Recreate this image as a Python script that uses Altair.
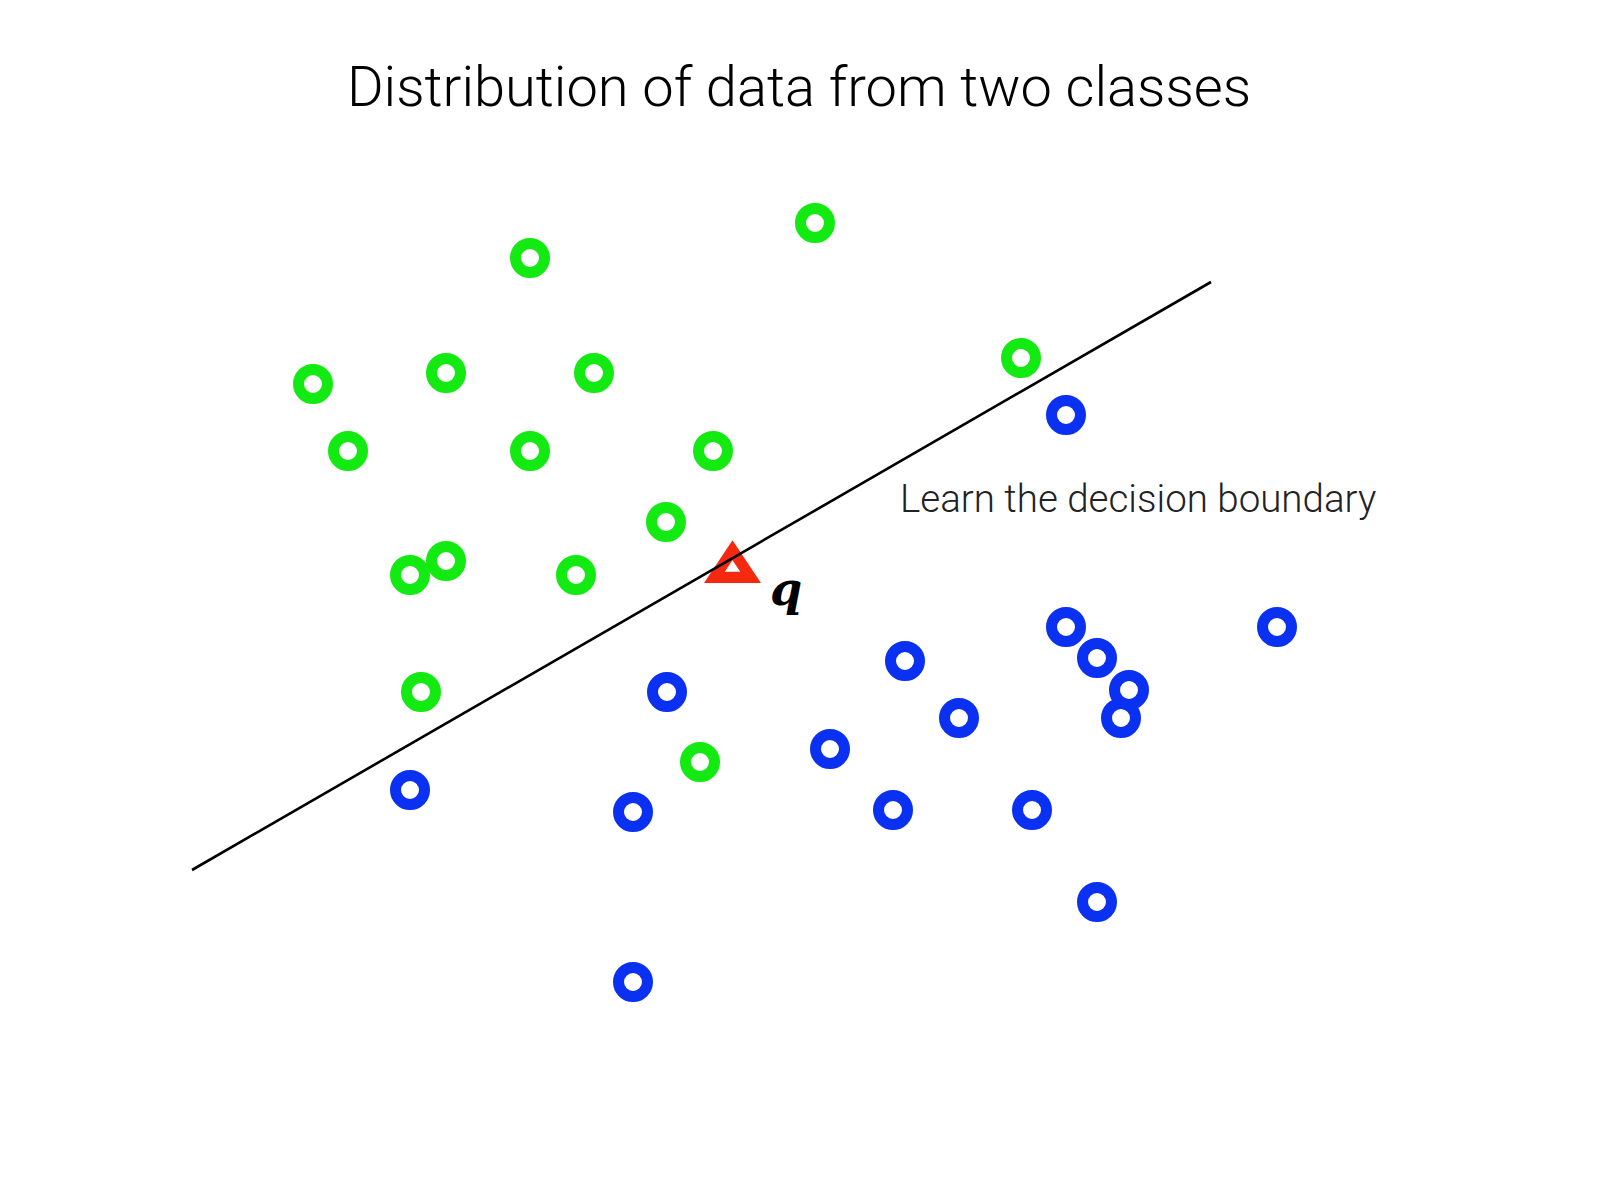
import altair as alt
import pandas as pd

# ---- data (image pixel coordinates, slide-like chart without axes) ----
green_x = [530, 815, 313, 446, 594, 1021, 348, 530, 713, 666, 446, 410, 576, 421, 700]
green_y = [258, 223, 384, 373, 373, 358, 451, 451, 451, 522, 561, 575, 575, 692, 762]

blue_x = [1066, 1066, 1277, 905, 1121, 1097, 1129, 667, 959, 830, 410, 633, 893, 1032, 1097, 633]
blue_y = [415, 627, 627, 661, 718, 658, 690, 692, 718, 749, 790, 812, 810, 810, 902, 982]

boundary_x = [192, 1211]
boundary_y = [870, 282]

query_x = [732.5]
query_y = [567.7]

title_text = ["Distribution of data from two classes"]
title_x = [799]
title_y = [106]

note_text = ["Learn the decision boundary"]
note_x = [900]
note_y = [512]

q_text = ["q"]
q_x = [770]
q_y = [605]

GREEN = "#12ea12"
BLUE = "#0a30f2"
RED = "#f5290f"

W, H = 1584, 1176

df_green = pd.DataFrame({"x": green_x, "y": green_y})
df_blue = pd.DataFrame({"x": blue_x, "y": blue_y})
df_line = pd.DataFrame({"x": boundary_x, "y": boundary_y})
df_q = pd.DataFrame({"x": query_x, "y": query_y})
df_title = pd.DataFrame({"x": title_x, "y": title_y, "t": title_text})
df_note = pd.DataFrame({"x": note_x, "y": note_y, "t": note_text})
df_qlab = pd.DataFrame({"x": q_x, "y": q_y, "t": q_text})

X = alt.X("x:Q", scale=alt.Scale(domain=[8, 8 + W]), axis=None)
Y = alt.Y("y:Q", scale=alt.Scale(domain=[8, 8 + H], reverse=True), axis=None)

TRI = "M0,-0.963L1,0.537L-1,0.537Z"

tri_outer = alt.Chart(df_q).mark_point(
    shape=TRI, filled=True, size=3249, color=RED, opacity=1, strokeWidth=0
).encode(x=X, y=Y)
tri_inner = alt.Chart(df_q).mark_point(
    shape=TRI, filled=True, size=240, color="white", opacity=1, strokeWidth=0
).encode(x=X, y=Y)

line = alt.Chart(df_line).mark_line(color="black", strokeWidth=2.6).encode(x=X, y=Y)

green = alt.Chart(df_green).mark_point(
    shape="circle", filled=False, size=841, strokeWidth=11, color=GREEN, opacity=1
).encode(x=X, y=Y)
blue = alt.Chart(df_blue).mark_point(
    shape="circle", filled=False, size=841, strokeWidth=11, color=BLUE, opacity=1
).encode(x=X, y=Y)

title = alt.Chart(df_title).mark_text(
    font="Roboto", fontWeight=300, fontSize=56, align="center", baseline="alphabetic", color="black"
).encode(x=X, y=Y, text="t:N")

note = alt.Chart(df_note).mark_text(
    font="Roboto", fontWeight=300, fontSize=38.5, align="left", baseline="alphabetic", color="#222222"
).encode(x=X, y=Y, text="t:N")

qlab = alt.Chart(df_qlab).mark_text(
    font="DejaVu Serif", fontWeight="bold", fontStyle="italic", fontSize=46,
    align="left", baseline="alphabetic", color="black"
).encode(x=X, y=Y, text="t:N")

chart = alt.layer(tri_outer, tri_inner, line, green, blue, title, note, qlab).properties(
    width=W, height=H, padding=0, autosize="none", background="white"
).configure_view(stroke=None)

chart.save("out.html", embed_options={"renderer": "svg", "actions": False})
